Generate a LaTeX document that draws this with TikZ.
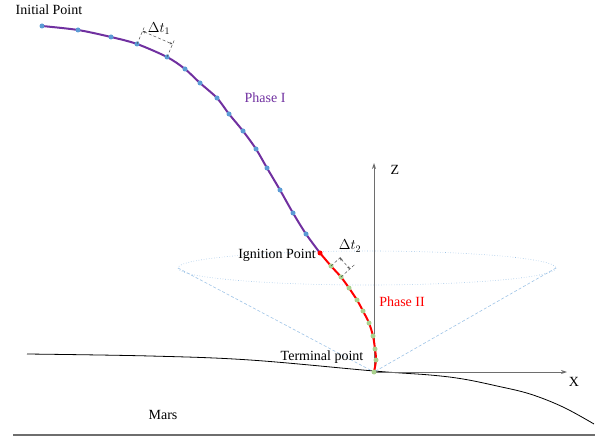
\documentclass[tikz,border=0pt]{standalone}
\usepackage{fontspec}
\setmainfont{Liberation Serif}
\usetikzlibrary{calc,arrows.meta}
\definecolor{trajpurple}{RGB}{112,48,160}
\definecolor{dotblue}{RGB}{91,155,213}
\definecolor{dotgreen}{RGB}{169,209,142}
\definecolor{conegray}{RGB}{157,195,230}
\definecolor{axisgray}{RGB}{110,110,110}
\tikzset{
  lbl/.style={font=\fontsize{14}{16}\selectfont, inner sep=0pt},
  bdot/.style={circle, fill=dotblue, inner sep=0pt, minimum size=5pt},
  gdot/.style={circle, fill=dotgreen, inner sep=0pt, minimum size=5pt},
  rdot/.style={circle, fill=red, inner sep=0pt, minimum size=5pt},
  ext/.style={densely dashed, black!70, line width=0.5pt},
  dimline/.style={densely dashed, black!70, line width=0.5pt, {Stealth[length=3pt,width=2.5pt]}-{Stealth[length=3pt,width=2.5pt]}},
  conestyle/.style={conegray, densely dashed, line width=0.6pt},
  axis/.style={axisgray, line width=0.9pt, -{Stealth[length=6pt,width=4pt]}},
}
\begin{document}
\begin{tikzpicture}[x=1pt,y=-1pt]
\useasboundingbox (0,0) rectangle (595,441);
% cone
\draw[conegray, dotted, line width=0.6pt] (367,268) ellipse [x radius=189, y radius=17];
\coordinate (cl) at (178,268);
\coordinate (cr) at (556,268);
\coordinate (O) at (374,372);
\draw[conestyle] (cl) -- (O);
\draw[conestyle] (cr) -- (O);
% surface
\draw[black, line width=0.8pt] plot[smooth, tension=0.6] coordinates {(27,354) (150,356) (250,360) (374,371) (430,375) (463,379) (497,386) (530,394) (563,407) (594,424)};
\draw[axisgray, line width=1.4pt] (13,435) -- (595,435);
% axes
\coordinate (zt) at (374,163);
\coordinate (xt) at (567,372);
\draw[axis] (O) -- (zt);
\draw[axis] (O) -- (xt);
\node[lbl] (zl) at (395,170) {Z};
\node[lbl] (xl) at (574,382) {X};
% phase I coordinates
\foreach \n/\p in {0/{42,26},1/{78,30},2/{111,37},3/{137,44},4/{167,57},5/{185,69},6/{200,83},7/{217,98},8/{229,114},9/{243,131},10/{256,149},11/{267,168},12/{280,190},13/{293,213},14/{306,234}}
  \coordinate (p\n) at (\p);
\coordinate (ign) at (320,253);
\draw[trajpurple, line width=2pt] plot[smooth, tension=0.5] coordinates {(42,26) (78,30) (111,37) (137,44) (167,57) (185,69) (200,83) (217,98) (229,114) (243,131) (256,149) (267,168) (280,190) (293,213) (306,234) (320,253)};
% phase II
\foreach \n/\p in {1/{331,266},2/{341,277},3/{349,288},4/{357,300},5/{363,311},6/{369,323},7/{373,336},8/{375,349},9/{376,360}}
  \coordinate (q\n) at (\p);
\draw[red, line width=2pt] plot[smooth, tension=0.5] coordinates {(320,253) (331,266) (341,277) (349,288) (357,300) (363,311) (369,323) (373,336) (375,349) (376,360) (374,372)};
% dots
\foreach \n in {0,...,14} \node[bdot] (bp\n) at (p\n) {};
\foreach \n in {1,...,9} \node[gdot] (gq\n) at (q\n) {};
\node[gdot] (term) at (O) {};
\node[rdot] (ignd) at (ign) {};
% dimension dt1
\coordinate (e1a) at ($(p3)!19pt!90:(p4)$);
\coordinate (e1b) at ($(p4)!19pt!-90:(p3)$);
\coordinate (d1a) at ($(p3)!14pt!90:(p4)$);
\coordinate (d1b) at ($(p4)!14pt!-90:(p3)$);
\draw[ext] (p3) -- (e1a);
\draw[ext] (p4) -- (e1b);
\draw[dimline] (d1a) -- (d1b);
\node[lbl] (dt1) at (159,29) {$\Delta t_1$};
% dimension dt2
\coordinate (e2a) at ($(q1)!15pt!90:(q2)$);
\coordinate (e2b) at ($(q2)!19pt!-90:(q1)$);
\coordinate (d2a) at ($(q1)!12pt!90:(q2)$);
\coordinate (d2b) at ($(q2)!12pt!-90:(q1)$);
\draw[ext] (q1) -- (e2a);
\draw[ext] (q2) -- (e2b);
\draw[dimline] (d2a) -- (d2b);
\node[lbl] (dt2) at (350,246) {$\Delta t_2$};
% labels
\node[lbl] (init) at (49,10) {Initial Point};
\node[lbl, text=trajpurple] (ph1) at (265,98) {Phase I};
\node[lbl] (ignl) at (277,255) {Ignition Point};
\node[lbl, text=red] (ph2) at (402,302) {Phase II};
\node[lbl] (terml) at (322,357) {Terminal point};
\node[lbl] (mars) at (163,415) {Mars};
\end{tikzpicture}
\end{document}
